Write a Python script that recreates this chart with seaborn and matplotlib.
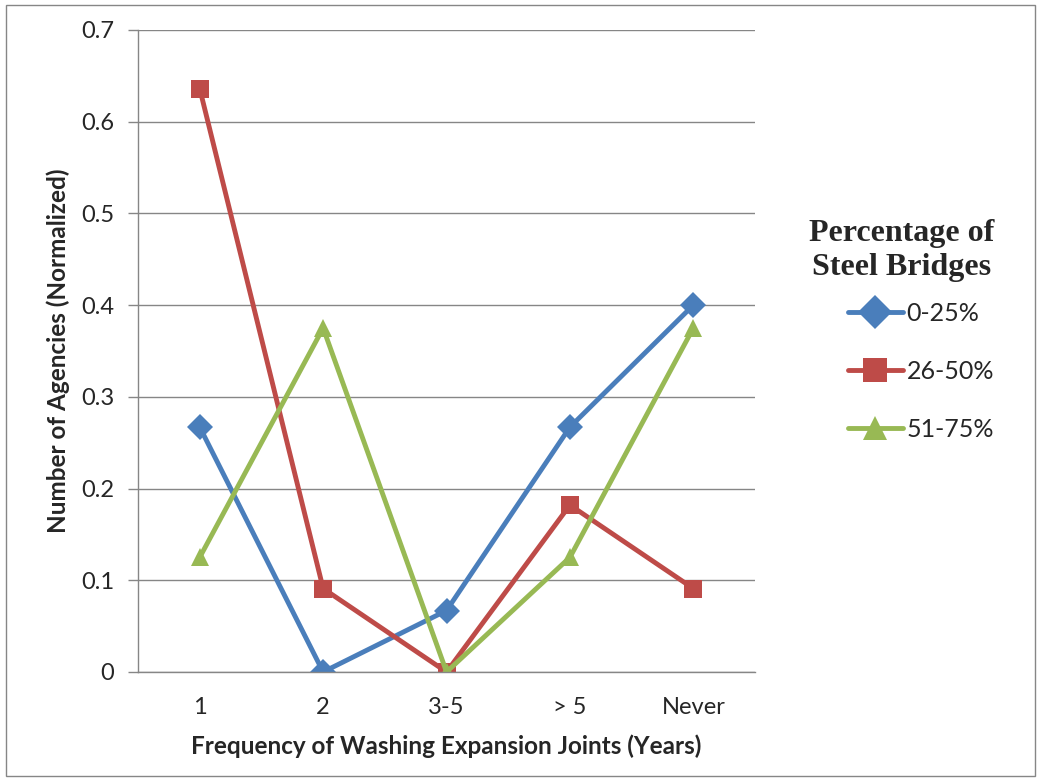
import matplotlib
matplotlib.use("Agg")
import matplotlib.pyplot as plt
import matplotlib.patches as mpatches
import pandas as pd
import seaborn as sns

# ── Data ─────────────────────────────────────────────────
categories = ["1", "2", "3-5", "> 5", "Never"]
series_names = ["0-25%", "26-50%", "51-75%"]
vals_0_25 = [0.267, 0.0, 0.067, 0.267, 0.400]
vals_26_50 = [0.636, 0.091, 0.0, 0.182, 0.091]
vals_51_75 = [0.125, 0.375, 0.0, 0.125, 0.375]
y_ticks = [0, 0.1, 0.2, 0.3, 0.4, 0.5, 0.6, 0.7]

COLORS = {"0-25%": "#4A7EBB", "26-50%": "#BE4B48", "51-75%": "#98B954"}
MARKERS = {"0-25%": "D", "26-50%": "s", "51-75%": "^"}

rows = []
for name, vals in zip(series_names, [vals_0_25, vals_26_50, vals_51_75]):
    for i, v in enumerate(vals):
        rows.append({"pos": i, "value": v, "series": name})
df = pd.DataFrame(rows)

sns.set_theme(style="white")
plt.rcParams["font.family"] = ["Lato", "DejaVu Sans"]

fig = plt.figure(figsize=(10.41, 7.79), dpi=100)
ax = fig.add_axes([0.1326, 0.1374, 0.5927, 0.8241])

sns.lineplot(data=df, x="pos", y="value", hue="series", style="series",
             palette=COLORS, markers=MARKERS, dashes=False,
             linewidth=3.5, markersize=13, markeredgewidth=0,
             ax=ax, legend=True)

ax.set_xlim(-0.5, 4.5)
ax.set_ylim(0, 0.7)
ax.set_xticks(range(len(categories)))
ax.set_xticklabels(categories, fontsize=17)
ax.set_yticks(y_ticks)
ax.set_yticklabels(["0" if t == 0 else f"{t:.1f}" for t in y_ticks], fontsize=17)
ax.yaxis.grid(True, color="#868686", linewidth=1)
ax.xaxis.grid(False)
ax.set_axisbelow(True)
for side in ["top", "right"]:
    ax.spines[side].set_visible(False)
for side in ["left", "bottom"]:
    ax.spines[side].set_color("#868686")
    ax.spines[side].set_linewidth(1)
ax.tick_params(axis="y", length=7, color="#868686", width=1, pad=10, left=True)
ax.tick_params(axis="x", length=0, pad=18)

ax.set_xlabel("Frequency of Washing Expansion Joints (Years)",
              fontsize=17.5, fontweight="bold", labelpad=12)
ax.set_ylabel("Number of Agencies (Normalized)",
              fontsize=17.5, fontweight="bold", labelpad=8)

handles, labels = ax.get_legend_handles_labels()
ax.get_legend().remove()
leg = fig.legend(handles, labels, loc="upper left",
                 bbox_to_anchor=(0.765, 0.735), frameon=False,
                 title="Percentage of\nSteel Bridges",
                 fontsize=18, handlelength=2.2, labelspacing=1.4,
                 handletextpad=0.15, borderpad=0, markerscale=1.3)
title = leg.get_title()
title.set_fontfamily(["Liberation Serif"])
title.set_fontweight("bold")
title.set_fontsize(23)
title.set_multialignment("center")
title.set_linespacing(1.25)
leg._legend_box.align = "right"
leg._legend_box.sep = 14

# outer chart border
fig.patches.append(mpatches.Rectangle((0.006, 0.004), 0.988, 0.99,
                                      transform=fig.transFigure, fill=False,
                                      edgecolor="#868686", linewidth=1))

fig.savefig("out.png", dpi=100)
plt.close(fig)
